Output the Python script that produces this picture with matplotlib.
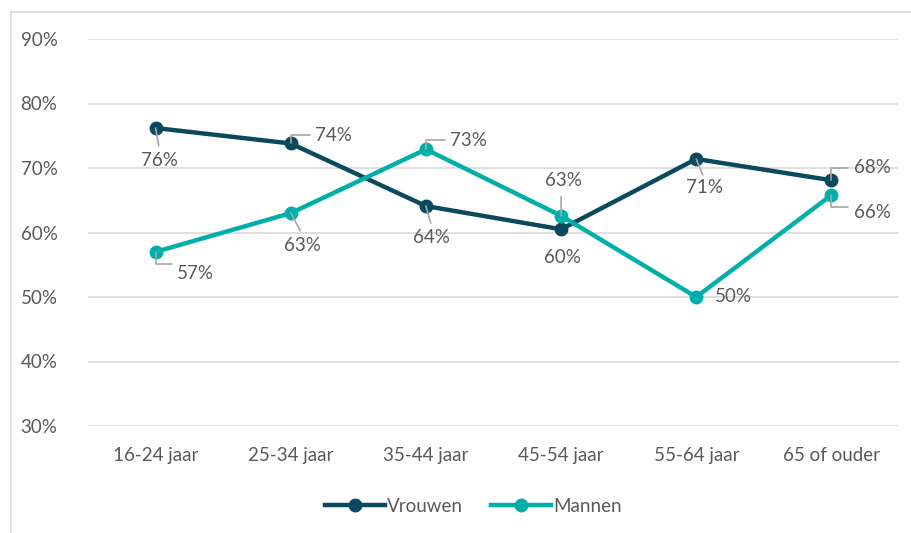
import numpy as np
import matplotlib.pyplot as plt
from matplotlib.patches import Rectangle

# data
categories = ["16-24 jaar", "25-34 jaar", "35-44 jaar", "45-54 jaar", "55-64 jaar", "65 of ouder"]
vrouwen = [76.2, 73.8, 64.1, 60.5, 71.4, 68.1]
mannen = [57.0, 63.0, 72.9, 62.6, 50.0, 65.8]
yticks = [30, 40, 50, 60, 70, 80, 90]

dark = "#0B4A5E"
light = "#00AFAA"
txt = "#595959"
plt.rcParams['font.family'] = ['Lato', 'DejaVu Sans']
fs = 13.5

fig = plt.figure(figsize=(9.11, 5.33), dpi=100)
ax = fig.add_axes([88 / 911, 1 - 426 / 533, 811 / 911, 387 / 533])

# outer chart border (light grey)
fig.patches.append(Rectangle((11 / 911, -0.1), 1.2, 1.1 - 12 / 533, transform=fig.transFigure,
                             fill=False, edgecolor="#D9D9D9", lw=1.2))

x = np.arange(len(categories))
ax.plot(x, vrouwen, color=dark, lw=3.2, marker='o', ms=9, label="Vrouwen", zorder=3)
ax.plot(x, mannen, color=light, lw=3.2, marker='o', ms=9, label="Mannen", zorder=4)

ax.set_xlim(-0.5, 5.5)
ax.set_ylim(30, 90)
ax.set_yticks(yticks)
ax.set_yticklabels([f"{v}%" for v in yticks])
ax.set_xticks(x)
ax.set_xticklabels(categories)
ax.tick_params(length=0, labelsize=fs, colors=txt)
ax.tick_params(axis='y', pad=22)
ax.tick_params(axis='x', pad=15)
ax.grid(axis='y', color="#D9D9D9", lw=1.2)
ax.set_axisbelow(True)
for s in ax.spines.values():
    s.set_visible(False)

# label offsets in pixels (dx, dy) and leader style per point
v_off = [(4, -32), (43, 8), (6, -31), (1, -28), (8, -29), (41, 13)]
v_lead = ['diag', 'elbow', 'diag', None, 'diag', 'elbow']
m_off = [(40, -22), (12, -32), (43, 9), (2, 35), (37, 0), (41, -17)]
m_lead = ['elbow', 'diag', 'elbow', 'vert', None, 'elbow']

def add_labels(vals, offs, leads):
    for i, (v, (dx, dy), ld) in enumerate(zip(vals, offs, leads)):
        ax.annotate(f"{round(v)}%", (i, v), xytext=(dx, dy), textcoords='offset pixels',
                    ha='center', va='center', fontsize=fs, color=txt, zorder=6)
        if ld == 'diag':
            ax.annotate("", (i, v), xytext=(dx * 0.8, dy * 0.55), textcoords='offset pixels',
                        arrowprops=dict(arrowstyle='-', color="#A6A6A6", lw=1.2,
                                        shrinkA=0, shrinkB=0), zorder=5)
        elif ld == 'vert':
            ax.annotate("", (i, v), xytext=(0, dy * 0.55), textcoords='offset pixels',
                        arrowprops=dict(arrowstyle='-', color="#A6A6A6", lw=1.2,
                                        shrinkA=0, shrinkB=0), zorder=5)
        elif ld == 'elbow':
            sgn = 1 if dy > 0 else -1
            ax.annotate("", (i, v), xytext=(dx - 24, dy if abs(dy) < 12 else sgn * 12),
                        textcoords='offset pixels',
                        arrowprops=dict(arrowstyle='-', color="#A6A6A6", lw=1.2,
                                        shrinkA=0, shrinkB=0,
                                        connectionstyle="angle,angleA=0,angleB=90,rad=0"),
                        zorder=5)

add_labels(vrouwen, v_off, v_lead)
add_labels(mannen, m_off, m_lead)

fig.legend(loc='lower center', bbox_to_anchor=(0.52, 0.002), ncol=2, frameon=False,
           fontsize=fs, labelcolor=txt, handlelength=3.2, handletextpad=0.1,
           columnspacing=1.5)

fig.savefig("out.png", dpi=100)
